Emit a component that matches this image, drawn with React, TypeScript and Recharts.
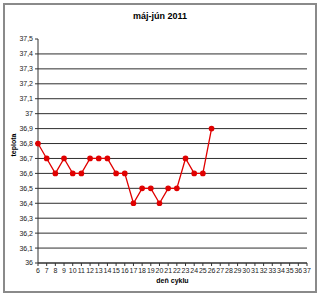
import React from 'react';
import { LineChart, Line, XAxis, YAxis, CartesianGrid } from 'recharts';

const days = [6, 7, 8, 9, 10, 11, 12, 13, 14, 15, 16, 17, 18, 19, 20, 21, 22, 23, 24, 25, 26];
const temps = [36.8, 36.7, 36.6, 36.7, 36.6, 36.6, 36.7, 36.7, 36.7, 36.6, 36.6, 36.4, 36.5, 36.5, 36.4, 36.5, 36.5, 36.7, 36.6, 36.6, 36.9];
const xTicks = Array.from({ length: 32 }, (_, i) => 6 + i);
const yTicks = [36, 36.1, 36.2, 36.3, 36.4, 36.5, 36.6, 36.7, 36.8, 36.9, 37, 37.1, 37.2, 37.3, 37.4, 37.5];
const gridValues = yTicks.filter((v) => v < 37.5);

const data = days.map((d, i) => ({ day: d, temp: temps[i] }));

const font = '"Liberation Sans", Arial, sans-serif';
const fmt = (v: number) => String(Math.round(v * 10) / 10).replace('.', ',');

const App: React.FC = () => {
  return (
    <div style={{ position: 'absolute', left: 0, top: 0, width: 320, height: 296, background: '#fff', fontFamily: font }}>
      <div style={{ position: 'absolute', left: 3, top: 3, width: 310, height: 286, border: '2px solid #8a8a8a' }} />
      <div style={{ position: 'absolute', left: 0, top: 11, width: 320, textAlign: 'center', fontSize: 9, fontWeight: 'bold', color: '#000' }}>
        máj-jún 2011
      </div>
      <div style={{ position: 'absolute', left: 13, top: 145, fontSize: 7, fontWeight: 'bold', color: '#000', transform: 'translate(-50%, -50%) rotate(-90deg)' }}>
        teplota
      </div>
      <div style={{ position: 'absolute', left: 38, top: 277, width: 269, textAlign: 'center', fontSize: 7, fontWeight: 'bold', color: '#000' }}>
        deň cyklu
      </div>
      <div style={{ position: 'absolute', left: 0, top: 0 }}>
        <LineChart width={320} height={296} data={data} margin={{ top: 39, right: 13, left: 0, bottom: 0 }}>
          <CartesianGrid vertical={false} horizontalValues={gridValues} stroke="#2e2e2e" strokeWidth={1} />
          <XAxis
            dataKey="day"
            type="number"
            domain={[6, 37]}
            ticks={xTicks}
            interval={0}
            height={33}
            stroke="#333"
            tickSize={3}
            tick={{ fontSize: 7, fill: '#222', fontFamily: font }}
          />
          <YAxis
            type="number"
            domain={[36, 37.5]}
            ticks={yTicks}
            interval={0}
            width={38}
            stroke="#333"
            tickSize={3}
            tickFormatter={fmt}
            tick={{ fontSize: 7, fill: '#222', fontFamily: font }}
          />
          <Line
            dataKey="temp"
            stroke="#e00000"
            strokeWidth={1.3}
            dot={{ r: 2.2, fill: '#e00000', stroke: '#e00000' }}
            isAnimationActive={false}
          />
        </LineChart>
      </div>
    </div>
  );
};

export default App;
